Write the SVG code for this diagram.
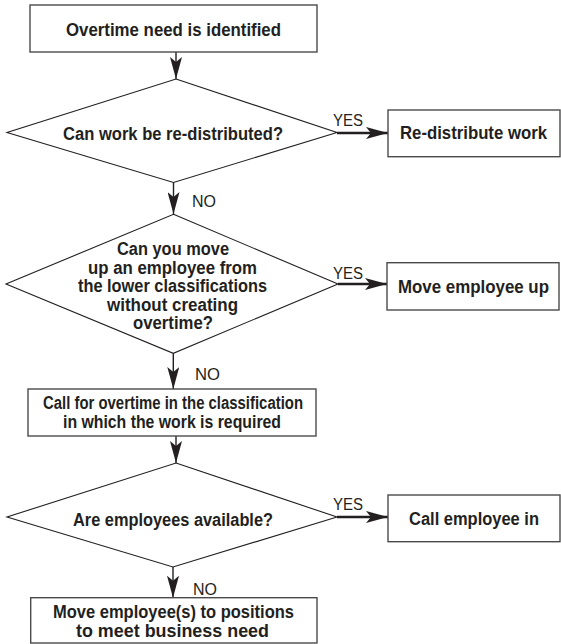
<svg xmlns="http://www.w3.org/2000/svg" width="561" height="644" viewBox="0 0 561 644">
<defs>
<marker id="ah" viewBox="0 0 22 12" refX="22" refY="6" markerWidth="22" markerHeight="12" markerUnits="userSpaceOnUse" orient="auto">
<path d="M0,0 L22,6 L0,12 L5,6 Z" fill="#231f20"/>
</marker>
<style>
.box{fill:#fff;stroke:#4a4a4a;stroke-width:1.4}
.dia{fill:#fff;stroke:#231f20;stroke-width:1.1}
.t{font-family:"Liberation Sans",Arial,sans-serif;font-weight:bold;font-size:17.5px;fill:#231f20;text-anchor:middle}
.lbl{font-family:"Liberation Sans",Arial,sans-serif;font-size:16px;fill:#231f20}
.v{stroke:#231f20;stroke-width:1.4;fill:none}
.h{stroke:#231f20;stroke-width:2.6;fill:none}
</style>
</defs>
<rect width="561" height="644" fill="#fff"/>
<g id="connectors">
<line class="v" x1="176" y1="52" x2="176" y2="79" marker-end="url(#ah)"/>
<line class="v" x1="173.5" y1="182.5" x2="173.5" y2="214" marker-end="url(#ah)"/>
<line class="v" x1="173.3" y1="353.3" x2="173.3" y2="389" marker-end="url(#ah)"/>
<line class="v" x1="176" y1="436" x2="176" y2="463" marker-end="url(#ah)"/>
<line class="v" x1="173" y1="567" x2="173" y2="597.7" marker-end="url(#ah)"/>
<line class="h" x1="337" y1="133" x2="388" y2="133" marker-end="url(#ah)"/>
<line class="h" x1="338" y1="284" x2="387" y2="284" marker-end="url(#ah)"/>
<line class="h" x1="337" y1="517" x2="388" y2="517" marker-end="url(#ah)"/>
<text class="lbl" x="333" y="126" textLength="30" lengthAdjust="spacingAndGlyphs">YES</text>
<text class="lbl" x="333" y="278.5" textLength="30" lengthAdjust="spacingAndGlyphs">YES</text>
<text class="lbl" x="333" y="510" textLength="30" lengthAdjust="spacingAndGlyphs">YES</text>
<text class="lbl" x="192" y="207" textLength="24" lengthAdjust="spacingAndGlyphs">NO</text>
<text class="lbl" x="195" y="380" textLength="25" lengthAdjust="spacingAndGlyphs">NO</text>
<text class="lbl" x="193" y="595" textLength="24" lengthAdjust="spacingAndGlyphs">NO</text>
</g>
<g id="start">
<rect class="box" x="30" y="5" width="287" height="47"/>
<text class="t" x="173.5" y="36" textLength="215" lengthAdjust="spacingAndGlyphs">Overtime need is identified</text>
</g>
<g id="q1">
<polygon class="dia" points="176,79 337,132.5 173.5,182.5 7,132.5"/>
<text class="t" x="173" y="140" textLength="220" lengthAdjust="spacingAndGlyphs">Can work be re-distributed?</text>
</g>
<g id="redistribute">
<rect class="box" x="388" y="110" width="172" height="46.7"/>
<text class="t" x="473.5" y="139" textLength="147" lengthAdjust="spacingAndGlyphs">Re-distribute work</text>
</g>
<g id="q2">
<polygon class="dia" points="173.5,214.3 338,284 173.3,353.3 6,284"/>
<text class="t" x="173" y="255" textLength="112" lengthAdjust="spacingAndGlyphs">Can you move</text>
<text class="t" x="172.5" y="273.5" textLength="169" lengthAdjust="spacingAndGlyphs">up an employee from</text>
<text class="t" x="172.5" y="292" textLength="189" lengthAdjust="spacingAndGlyphs">the lower classifications</text>
<text class="t" x="172.5" y="310.5" textLength="131" lengthAdjust="spacingAndGlyphs">without creating</text>
<text class="t" x="173" y="329" textLength="80" lengthAdjust="spacingAndGlyphs">overtime?</text>
</g>
<g id="moveup">
<rect class="box" x="387" y="262.7" width="172" height="47.3"/>
<text class="t" x="473.5" y="293" textLength="151" lengthAdjust="spacingAndGlyphs">Move employee up</text>
</g>
<g id="callot">
<rect class="box" x="28" y="389" width="288" height="47"/>
<text class="t" x="173" y="409.3" textLength="260" lengthAdjust="spacingAndGlyphs">Call for overtime in the classification</text>
<text class="t" x="172" y="428.3" textLength="218" lengthAdjust="spacingAndGlyphs">in which the work is required</text>
</g>
<g id="q3">
<polygon class="dia" points="176,463 337,517 173,567 7,517"/>
<text class="t" x="173" y="526" textLength="200" lengthAdjust="spacingAndGlyphs">Are employees available?</text>
</g>
<g id="callin">
<rect class="box" x="388" y="495" width="172" height="46.7"/>
<text class="t" x="474" y="525" textLength="130" lengthAdjust="spacingAndGlyphs">Call employee in</text>
</g>
<g id="moveemp">
<rect class="box" x="30.7" y="597.7" width="286.3" height="45.3"/>
<text class="t" x="173.5" y="618" textLength="241" lengthAdjust="spacingAndGlyphs">Move employee(s) to positions</text>
<text class="t" x="172.5" y="637" textLength="193" lengthAdjust="spacingAndGlyphs">to meet business need</text>
</g>
</svg>
